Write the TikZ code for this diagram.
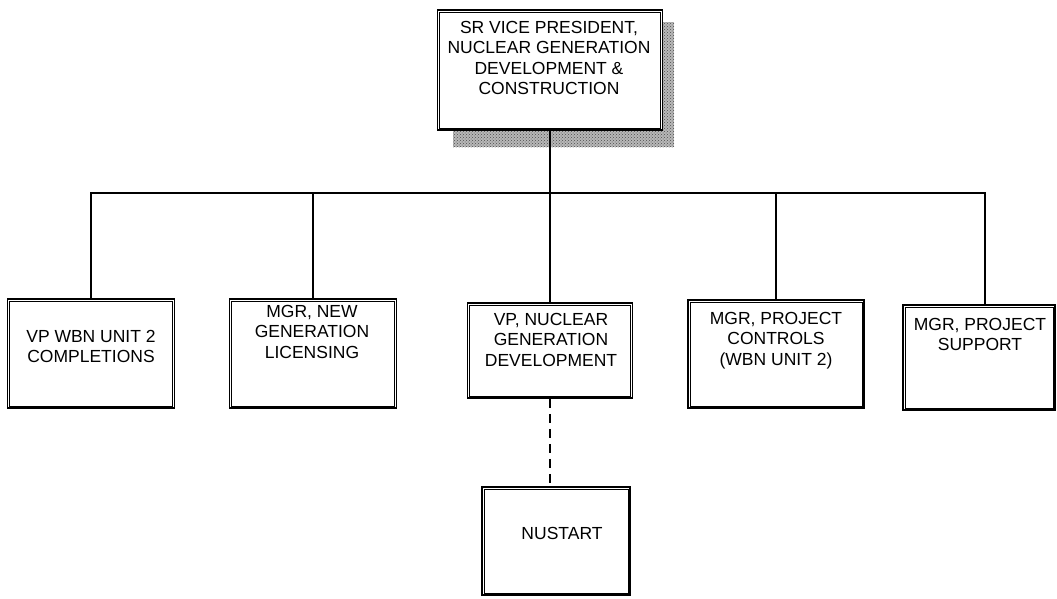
\documentclass[tikz,border=0pt]{standalone}
\usepackage{fontspec}
\setmainfont{Liberation Sans}
\usetikzlibrary{patterns}
\begin{document}
\begin{tikzpicture}[x=1pt,y=-1pt,
  orgbox/.style={draw, fill=white, line width=1.6pt, inner sep=0pt},
  innerrule/.style={line width=0.6pt},
  boxtext/.style={anchor=north, inner sep=0pt, align=center,
    font=\fontsize{17.5}{20.5}\selectfont},
  link/.style={line width=1.4pt},
  dotlink/.style={line width=1.4pt, dash pattern=on 9pt off 6pt}]
\useasboundingbox (0,0) rectangle (1057,598);

% stippled drop shadow behind the head box
\fill[black!28] (453,22) rectangle (674,147);
\fill[pattern=crosshatch dots, pattern color=black!70] (453,22) rectangle (674,147);

% boxes
\node[orgbox, minimum width=225pt, minimum height=120pt] (top) at (550,70) {};
\node[orgbox, minimum width=167pt, minimum height=109pt] (c1) at (91,353.5) {};
\node[orgbox, minimum width=167pt, minimum height=109pt] (c2) at (313,353.5) {};
\node[orgbox, minimum width=165pt, minimum height=95pt] (c3) at (550,350.5) {};
\node[orgbox, minimum width=176pt, minimum height=108pt] (c4) at (776,354) {};
\node[orgbox, minimum width=152pt, minimum height=105pt] (c5) at (979,357.5) {};
\node[orgbox, minimum width=148pt, minimum height=108pt] (nu) at (556,541) {};

% inner rule of each double frame
\foreach \b in {top,c1,c2,c3,c4,c5,nu}
  \draw[innerrule] ([shift={(3pt,-3pt)}]\b.north west) rectangle
                   ([shift={(-3pt,3pt)}]\b.south east);

% texts
\node[boxtext] (ttop) at (549,21) {SR VICE PRESIDENT,\\NUCLEAR GENERATION\\DEVELOPMENT \&\\CONSTRUCTION};
\node[boxtext] (t1) at (91,330) {VP WBN UNIT 2\\COMPLETIONS};
\node[boxtext] (t2) at (312,305) {MGR, NEW\\GENERATION\\LICENSING};
\node[boxtext] (t3) at (551,313) {VP, NUCLEAR\\GENERATION\\DEVELOPMENT};
\node[boxtext] (t4) at (776,312) {MGR, PROJECT\\CONTROLS\\(WBN UNIT 2)};
\node[boxtext] (t5) at (980,318) {MGR, PROJECT\\SUPPORT};
\node[boxtext] (tnu) at (562,527) {NUSTART};

% connectors
\coordinate (hub) at (550,193);
\draw[link] (top.south) -- (hub);
\draw[link] (c1.north) |- (hub);
\draw[link] (c2.north) |- (hub);
\draw[link] (c3.north) -- (hub);
\draw[link] (c4.north) |- (hub);
\draw[link] ([xshift=6pt]c5.north) |- (hub);
\draw[dotlink] (c3.south) -- (c3.south |- nu.north);
\end{tikzpicture}
\end{document}
